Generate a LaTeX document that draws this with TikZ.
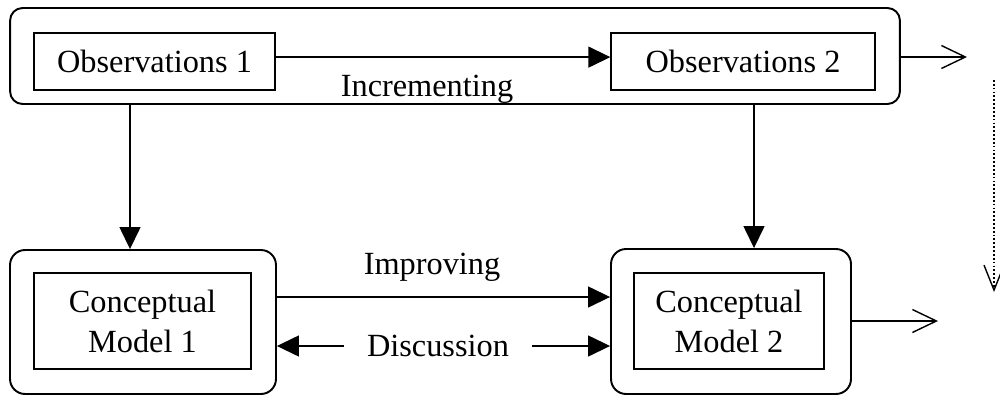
\documentclass[tikz,border=0pt]{standalone}
\usepackage{fontspec}
\setmainfont{Liberation Serif}
\usetikzlibrary{arrows.meta}

\begin{document}
\begin{tikzpicture}
		[x=0.02cm,y=-0.02cm,font=\fontsize{18.4}{22.8}\selectfont,
		outer/.style={draw,line width=1.1pt,rounded corners=0.25cm,inner sep=0pt},
		inner/.style={draw,line width=0.8pt,inner sep=0pt,align=center},
		solid arrow/.style={line width=0.8pt,-{Triangle[length=0.44cm,width=0.42cm]}},
		open arrow/.style={line width=0.8pt,-{Straight Barb[length=0.48cm,width=0.46cm,line width=0.8pt]}},
		label/.style={inner sep=0pt}]
		\useasboundingbox (0,0) rectangle (1000,396);

		\node[outer,minimum width=17.8cm,minimum height=1.92cm] (topbox) at (455,56) {};
		\node[inner,minimum width=4.82cm,minimum height=1.14cm] (obs1) at (154.5,61.5) {Observations 1};
		\node[inner,minimum width=5.28cm,minimum height=1.14cm] (obs2) at (743,61.5) {Observations 2};
		\node[label] (incr) at (427,89) {Incrementing};

		\node[outer,rounded corners=0.3cm,minimum width=5.32cm,minimum height=2.88cm] (cm1out) at (143,322) {};
		\node[inner,minimum width=4.34cm,minimum height=1.92cm] (cm1) at (142.5,321) {Conceptual\\Model 1};
		\node[outer,rounded corners=0.3cm,minimum width=4.8cm,minimum height=2.9cm] (cm2out) at (731,321.5) {};
		\node[inner,minimum width=3.8cm,minimum height=1.92cm] (cm2) at (729,321) {Conceptual\\Model 2};

		\node[label] (impr) at (432,267) {Improving};
		\node[label,inner xsep=0.46cm] (disc) at (438,346) {Discussion};

		\coordinate (topout) at (967,57);
		\coordinate (cmout) at (938,321);
		\coordinate (fb1) at (994,80);
		\coordinate (fb2) at (994,292);

		\draw[solid arrow] ([yshift=2.5pt]obs1.east) -- ([yshift=2.5pt]obs2.west);
		\draw[open arrow] (topbox.east |- topout) -- (topout);
		\draw[solid arrow] (topbox.south -| 130,0) -- (cm1out.north -| 130,0);
		\draw[solid arrow] (topbox.south -| 754,0) -- (cm2out.north -| 754,0);
		\draw[solid arrow] (cm1out.east |- 0,297) -- (cm2out.west |- 0,297);
		\draw[solid arrow] (disc.west) -- (cm1out.east |- disc);
		\draw[solid arrow] (disc.east) -- (cm2out.west |- disc);
		\draw[open arrow] (cm2out.east |- cmout) -- (cmout);
		\draw[line width=0.9pt,dash pattern=on 1pt off 1.2pt,-{Straight Barb[length=0.5cm,width=0.4cm,line width=0.8pt]}] (fb1) -- (fb2);

	\end{tikzpicture}
\end{document}
